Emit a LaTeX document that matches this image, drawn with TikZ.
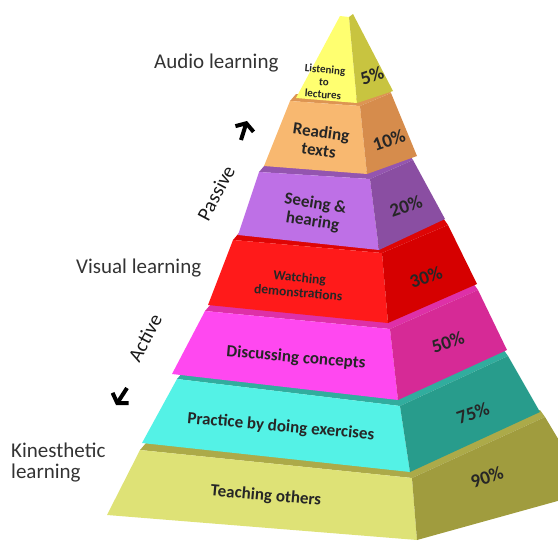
\documentclass[tikz,border=0pt]{standalone}
\usepackage{fontspec}
\setmainfont{Carlito}
\definecolor{TopFront}{RGB}{255,255,112}
\definecolor{TopSide}{RGB}{200,196,64}
\definecolor{ReadFront}{RGB}{248,184,112}
\definecolor{ReadSide}{RGB}{214,140,76}
\definecolor{SeeFront}{RGB}{190,112,230}
\definecolor{SeeSide}{RGB}{138,78,162}
\definecolor{WatchFront}{RGB}{255,26,26}
\definecolor{WatchSide}{RGB}{214,0,0}
\definecolor{DiscussFront}{RGB}{255,72,240}
\definecolor{DiscussSide}{RGB}{214,42,150}
\definecolor{PracticeFront}{RGB}{84,242,230}
\definecolor{PracticeSide}{RGB}{40,156,140}
\definecolor{TeachFront}{RGB}{222,226,118}
\definecolor{TeachSide}{RGB}{160,156,62}
\usetikzlibrary{calc,arrows.meta}

% front + side face of one tier: front, side, tl, tm, tr, bl, bm, br
\newcommand{\tierfaces}[8]{%
  \fill[#1] #3 -- #4 -- #7 -- #6 -- cycle;
  \fill[#2] #4 -- #5 -- #8 -- #7 -- cycle;
}
% tier with its top face showing above the front
\newcommand{\tier}[8]{%
  \fill[#2!80!#1] #3 -- #4 -- #5 -- ($#5+(-5,-7)$) -- ($#4+(0,-8)$) -- ($#3+(6,-7)$) -- cycle;
  \tierfaces{#1}{#2}{#3}{#4}{#5}{#6}{#7}{#8}
}

\begin{document}
\begin{tikzpicture}[x=1pt,y=-1pt,
    tierlabel/.style={font=\bfseries\fontsize{17}{18}\selectfont, text=black!85, align=center, inner sep=0pt, rotate=-5},
    pct/.style={font=\bfseries\fontsize{19}{19}\selectfont, text=black!85, inner sep=0pt, rotate=19},
    sidelabel/.style={font=\fontsize{21}{21}\selectfont, text=black!80, align=left, inner sep=0pt},
    mode/.style={font=\fontsize{20}{20}\selectfont, text=black!90, inner sep=0pt, rotate=62},
    dirarrow/.style={line width=4pt, -{Straight Barb[length=6pt,width=19pt]}}
  ]
  \useasboundingbox (0,0) rectangle (558,541);
  \clip (0,0) rectangle (558,541);

  % pyramid, bottom tier first
  \tier{TeachFront}{TeachSide}{(140,450)}{(412,478)}{(545,417)}{(107,515)}{(417,540)}{(590,492)}
  \tier{PracticeFront}{PracticeSide}{(177,379)}{(400,406)}{(508,356)}{(142,443)}{(410,472)}{(540,412)}
  \tier{DiscussFront}{DiscussSide}{(205,311)}{(390,329)}{(478,290)}{(172,374)}{(398,400)}{(507,350)}
  \tier{WatchFront}{WatchSide}{(233,240)}{(382,253)}{(448,225)}{(208,305)}{(388,323)}{(477,284)}
  \tier{SeeFront}{SeeSide}{(259,172)}{(370,179)}{(413,160)}{(238,235)}{(379,250)}{(445,219)}
  \tier{ReadFront}{ReadSide}{(290,101)}{(360,106)}{(391,93)}{(264,166)}{(367,174)}{(417,156)}
  \tierfaces{TopFront}{TopSide}{(340,16)}{(349,17)}{(353,14)}{(296,98)}{(357,103)}{(393,91)}

  % what each tier stands for
  \node[tierlabel, font=\bfseries\fontsize{11}{12.5}\selectfont, rotate=0] (listen) at (324,82) {Listening\\to\\lectures};
  \node[tierlabel, rotate=-3] (read) at (320,141) {Reading\\texts};
  \node[tierlabel, rotate=-4] (see) at (314,213) {Seeing \&\\hearing};
  \node[tierlabel, font=\bfseries\fontsize{13.5}{15}\selectfont] (watch) at (299,285) {Watching\\demonstrations};
  \node[tierlabel] (discuss) at (296,358) {Discussing concepts};
  \node[tierlabel] (practice) at (281,427) {Practice by doing exercises};
  \node[tierlabel] (teach) at (266,496) {Teaching others};

  % retention on the side faces
  \node[pct] (p5) at (372,76) {5\%};
  \node[pct] (p10) at (389,140) {10\%};
  \node[pct] (p20) at (406,206) {20\%};
  \node[pct] (p30) at (426,277) {30\%};
  \node[pct] (p50) at (448,342) {50\%};
  \node[pct] (p75) at (473,413) {75\%};
  \node[pct] (p90) at (487,477) {90\%};

  % learning styles
  \node[sidelabel, anchor=west] (audio) at (154,63) {Audio learning};
  \node[sidelabel, anchor=west] (visual) at (76,268) {Visual learning};
  \node[sidelabel, anchor=north west] (kines) at (11,443) {Kinesthetic\\learning};

  % passive / active direction
  \node[mode] (passive) at (216,193) {Passive};
  \node[mode] (active) at (145,338) {Active};
  \coordinate (upfrom) at (241,140);
  \coordinate (upto) at (247,121);
  \coordinate (downfrom) at (127,388);
  \coordinate (downto) at (116,405);
  \draw[dirarrow] (upfrom) -- (upto);
  \draw[dirarrow] (downfrom) -- (downto);
\end{tikzpicture}
\end{document}
